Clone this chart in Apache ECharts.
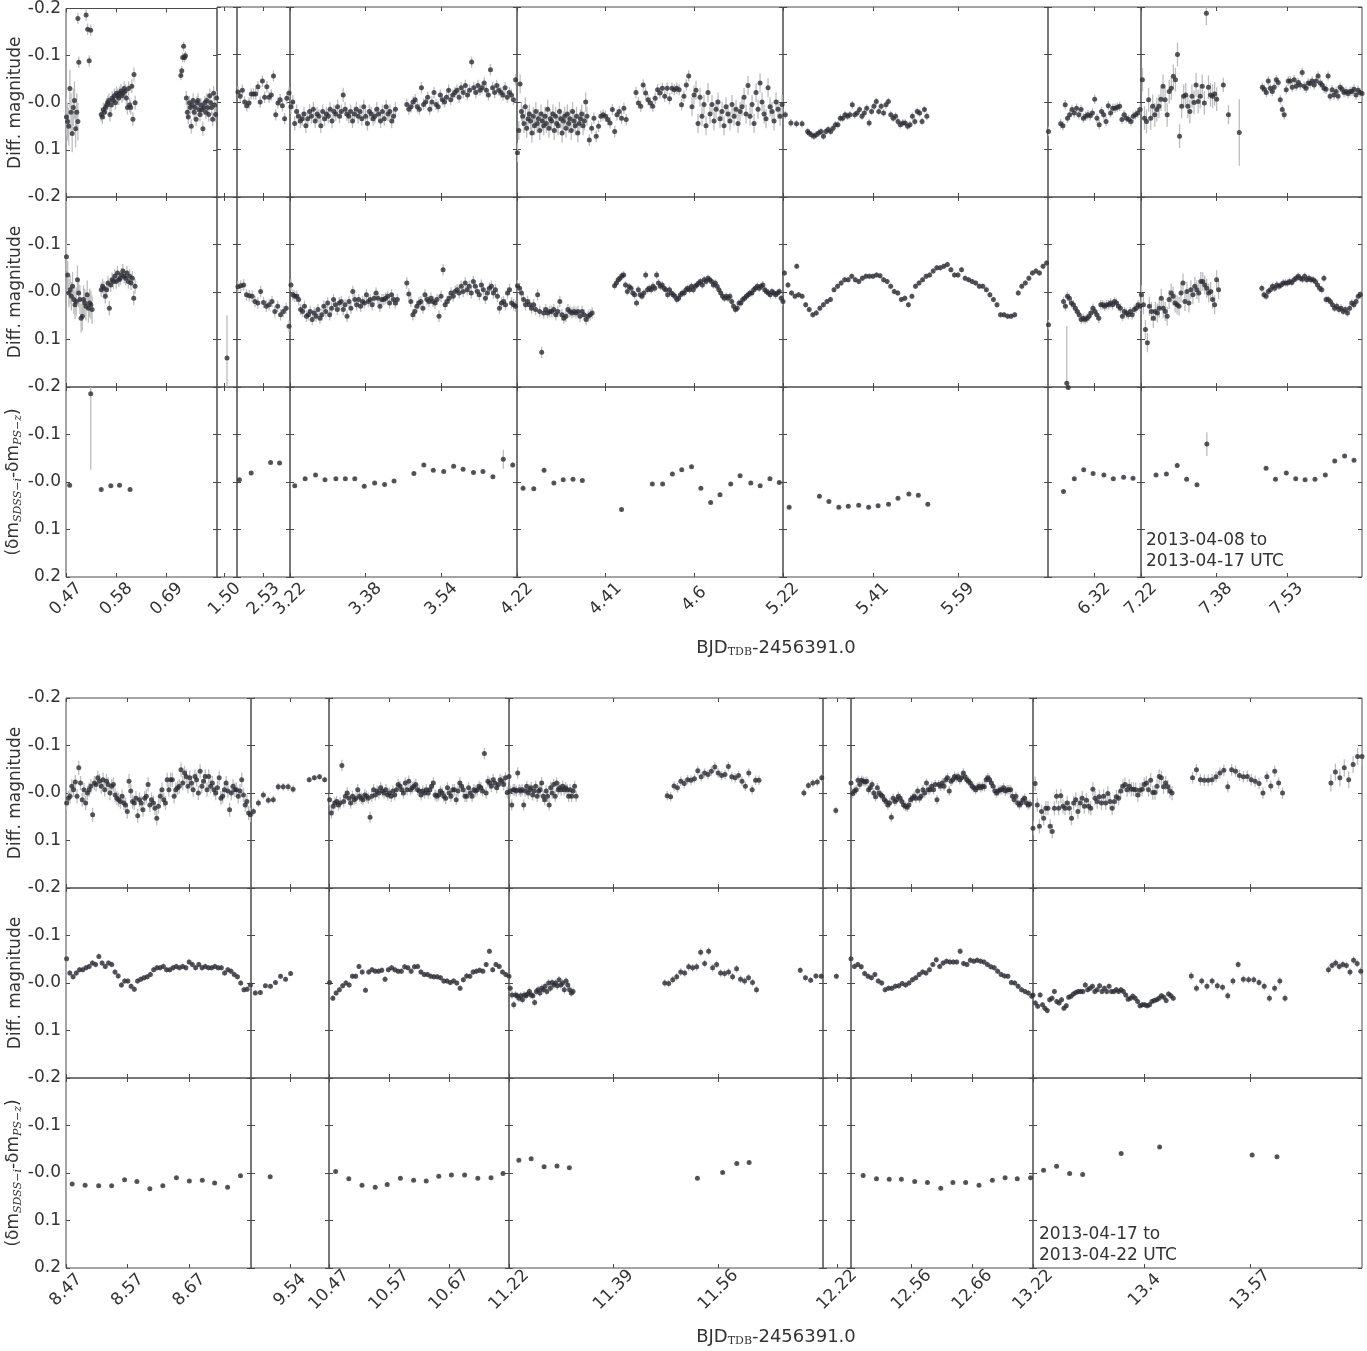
<!DOCTYPE html>
<html>
<head>
<meta charset="utf-8">
<title>Differential light curves</title>
<script src="https://cdn.jsdelivr.net/npm/echarts@6/dist/echarts.min.js"></script>
<style>
  html, body { margin: 0; padding: 0; background: #fff; }
  #main { width: 1367px; height: 1351px; }
</style>
</head>
<body>
<div id="main"></div>
<script>
// ---- x segments (BJD_TDB - 2456391.0) and their tick labels ----
var segA = [[0.47, 0.80], [1.483, 1.527], [2.474, 2.586], [3.22, 3.70], [4.22, 4.79], [5.22, 5.78], [6.221, 6.419], [7.22, 7.69]];
var ticksA = [['0.47', '0.58', '0.69'], ['1.50'], ['2.53'], ['3.22', '3.38', '3.54'], ['4.22', '4.41', '4.6'], ['5.22', '5.41', '5.59'], ['6.32'], ['7.22', '7.38', '7.53']];
var segB = [[8.47, 8.77], [9.477, 9.603], [10.47, 10.77], [11.22, 11.73], [12.197, 12.243], [12.46, 12.76], [13.22, 13.75]];
var ticksB = [['8.47', '8.57', '8.67'], ['9.54'], ['10.47', '10.57', '10.67'], ['11.22', '11.39', '11.56'], ['12.22'], ['12.56', '12.66'], ['13.22', '13.4', '13.57']];

// y ticks
var yTicks = [-0.2, -0.1, 0, 0.1, 0.2];

// ---- data: runs of [tStart, tEnd, err(mmag), values(mmag)] ----
var magA1 = [
  [0.471, 0.496, 40, [30, 40, 50, -30, 20, 65, 10, -5, 55, 20, 40]],
  [0.496, 0.498, 12, [-179, -86]],
  [0.514, 0.524, 12, [-186, -156, -89, -154]],
  [0.547, 0.621, 15, [25, 30, 15, 20, 10, 5, 0, -5, 25, 5, -10, -5, -15, 0, -20, -15, -10, -20, -25, -15, -20, -30, -25, -10, 10, -30, 5, 10, -35, 35, -60, 0]],
  [0.721, 0.731, 10, [-58, -68, -96, -120, -96, -100]],
  [0.733, 0.799, 15, [-10, 20, 30, 0, 10, 50, 5, -5, 20, 10, 35, 0, -5, 15, 25, 5, 15, 55, 10, 0, 20, -5, 10, 25, -15, 0, 10, 35, -20, 5, 25, -10]],
  [2.476, 2.584, 12, [-21, -12, -25, 0, 8, 2, -17, -17, -17, -32, 0, -44, -10, -32, -10, -15, -55, 27, 2, -5, 8, 35, -8, -19]],
  [3.222, 3.443, 15, [10, 0, 45, 20, 30, 40, 35, 25, 50, 35, 20, 30, 15, 40, 25, 30, 50, 20, 35, 25, 30, 15, 40, 20, 25, 10, 30, 20, -15, 15, 25, 30, 20, 40, 25, 15, 30, 20, 35, 10, 30, 45, 20, 25, 35, 30, 15, 25, 40, 20, 35, 10, 25, 20, 40, 30, 15]],
  [3.467, 3.697, 12, [5, 15, 10, 0, -5, 10, 15, -30, 5, 0, -10, 15, 0, -20, 5, 10, -15, -5, 0, -10, -25, -5, -15, -20, -25, -10, -30, -20, -35, -15, -25, -84, -30, -20, -35, -25, -30, -40, -25, -15, -68, -30, -20, -35, -25, -20, -15, -30, -10, -20, -15, -5, -47]],
  [4.221, 4.37, 20, [107, 60, -38, 20, 30, 45, 10, 55, 35, 25, 40, 65, 30, 50, 20, 45, 35, 60, 25, 40, 50, 30, 45, 15, 55, 35, 40, 25, 60, 30, 45, 50, 20, 35, 65, 40, 30, 55, 25, 45, 35, 60, 20, 40, 50, 30, 65, 45, 35, 25, 50, 40, 0, 30]],
  [4.375, 4.454, 12, [80, 55, 34, 72, 51, 30, 27, 30, 37, 44, 16, 62, 27, 20, 34, 13, 37]],
  [4.475, 4.588, 12, [-20, 2, 9, -36, -19, -5, 2, 9, -8, -26, -19, -29, -12, -29, -7, -29, -26, -29, -26, 6, -12, -36, -55]],
  [4.595, 4.788, 20, [10, -15, -25, 45, -10, 30, 5, 50, -20, 25, 5, 40, 15, 0, 35, 20, 50, 10, 25, 40, 5, 30, 15, 45, 20, 10, -10, 25, -35, 30, 5, 45, -20, 15, -40, 0, 25, 35, -30, 10, 20, 40, 0, 15, 30, 5]],
  [5.225, 5.272, 8, [27, 44, 46, 46, 62]],
  [5.275, 5.524, 8, [65, 69, 72, 69, 65, 62, 72, 62, 58, 62, 55, 48, 48, 34, 34, 27, 30, 27, 6, 27, 23, 16, 30, 23, 13, 44, 20, 9, -1, 20, 9, 23, 6, -1, 27, 34, 30, 41, 48, 44, 44, 51, 48, 30, 41, 20, 23, 41, 16, 30]],
  [6.222, 6.222, 10, [62]],
  [6.248, 6.417, 10, [46, 50, 6, 34, 27, 16, 23, 13, 27, 16, 34, 30, 27, 29, 23, -6, 34, 48, 20, 27, 41, 8, 23, 13, 13, 11, 9, 37, 27, 34, 37, 41, 30, 27, 23, 16]],
  [7.223, 7.381, 25, [-47, 34, 41, -5, 34, 9, 27, 16, 9, -6, -33, -5, 27, -22, -29, -54, -47, -100, 72, 9, -12, -15, 9, 20, -12, 1, -36, -1, -12, -33, 2, -187, -31, -15, -12, -17, -6]],
  [7.395, 7.395, 15, [-36]],
  [7.406, 7.406, 20, [27]],
  [7.429, 7.429, 70, [64]],
  [7.478, 7.69, 10, [-31, -27, -20, -44, -29, -22, -31, -47, -41, -5, 16, 27, -26, -44, -44, -31, -47, -33, -41, -36, -62, -33, -29, -40, -39, -44, -36, -44, -55, -40, -36, -29, -27, -55, -12, -26, -15, -22, -12, -31, -27, -20, -22, -18, -22, -22, -27, -15, -25, -20, -18]]
];

var magA2 = [
  [0.471, 0.527, 30, [-74, -36, 2, -5, 9, -12, 16, 27, 20, -26, 2, 16, 55, 51, 16, 23, 30, 6, 34, 23, 27, 37]],
  [0.547, 0.621, 15, [-5, -12, -8, 9, -5, -19, 34, -15, -26, -22, -33, -22, -40, -26, -29, -36, -44, -33, -29, -40, -22, -33, -19, -29, 13, -12]],
  [1.505, 1.505, 90, [139]],
  [2.476, 2.584, 12, [-11, -13, -15, 6, 8, 9, 20, 23, -1, 22, 30, 27, 20, 41, 30, 48, 41, 34, 72]],
  [3.222, 3.447, 12, [-15, 6, 9, 9, 16, 37, 41, 30, 51, 48, 41, 58, 44, 51, 37, 55, 48, 30, 41, 23, 48, 34, 16, 27, 37, 23, 20, 37, 27, 51, 20, 34, -1, 16, 27, 16, 30, 20, 23, 6, 20, 16, 27, 13, 2, 13, 30, 16, 16, 13, 9, 23, 6, 16, 23, 16]],
  [3.467, 3.697, 12, [-19, 4, 20, 48, 41, 30, 23, 20, 34, 6, 16, 20, 13, 20, 23, 16, 51, 9, -47, 27, 20, 13, 2, 9, -1, -5, 2, -12, -1, -19, -5, -12, 2, -22, -12, -1, 6, -15, -5, 13, 2, -8, -12, 2, -5, 9, 34, 23, 20, 27, 2, -5, 23, 27, 30]],
  [4.221, 4.381, 12, [-13, -8, 2, 16, 27, 20, 27, 34, 27, 37, 6, 41, 127, 44, 37, 44, 41, 41, 37, 48, 41, 20, 48, 55, 51, 37, 41, 44, 41, 44, 41, 51, 41, 48, 58, 51, 48, 44]],
  [4.429, 4.79, 8, [-13, -19, -26, -29, -34, -36, -15, -1, -11, -8, 2, 6, 23, -5, 6, 9, 2, -36, -5, -8, -5, -12, -8, -36, -19, -12, -15, -8, -5, 6, -5, 2, 6, 9, 16, 13, 6, 2, 2, -5, -8, -5, -12, -5, -12, -15, -19, -22, -15, -26, -22, -29, -26, -22, -15, -19, -12, -5, 2, 9, 13, 9, 13, 9, 20, 30, 37, 34, 23, 23, 16, 13, 9, 6, 2, 2, -5, -8, -12, -8, -12, -15, -5, -1, 2, 6, -1, 2, 6, 2, -1, 13, 20]],
  [5.223, 5.777, 6, [-40, -15, 2, 9, 6, 9, 27, 37, 48, 44, 34, 27, 20, 16, -5, -12, -19, -26, -26, -33, -26, -22, -29, -33, -33, -33, -36, -34, -26, -22, -12, -1, 2, 16, 13, 27, 9, -12, -19, -26, -33, -36, -44, -51, -51, -54, -58, -47, -36, -36, -47, -29, -26, -22, -19, -12, -12, -5, 6, 16, 27, 48, 48, 51, 51, 48, 2, -12, -19, -29, -40, -44, -40, -54, -61]],
  [5.249, 5.249, 6, [-54]],
  [6.222, 6.222, 10, [69]],
  [6.261, 6.261, 120, [192]],
  [6.254, 6.417, 10, [20, 30, 9, 13, 23, 27, 34, 41, 48, 58, 55, 58, 55, 51, 44, 34, 41, 48, 55, 27, 27, 30, 27, 27, 23, 27, 20, 23, 30, 34, 51, 41, 44, 48, 41, 48, 37, 34, 27, 30]],
  [7.221, 7.385, 20, [6, 27, 79, 107, 30, 41, 55, 41, 44, 34, 13, 34, 41, 51, 16, 2, 9, 23, 27, 30, 2, -19, 20, -1, 23, -5, 6, -12, -5, 2, -22, -22, -15, -8, 2, -1, 16, 27, -26, -5]],
  [7.477, 7.691, 8, [-8, 6, 9, -1, -5, -12, -8, -15, -12, -15, -19, -19, -19, -22, -20, -26, -29, -33, -29, -27, -33, -26, -29, -26, -26, -22, -15, -8, -5, -29, 16, 16, 20, 27, 34, 30, 37, 34, 41, 37, 44, 34, 23, 27, 20, 9, 6, 16]]
];

// colour term: [t, mmag, err(mmag)]
var colA = [
  [0.478, 7, 4], [0.524, -186, 160], [0.547, 16, 3], [0.568, 8, 3], [0.587, 7, 3], [0.610, 16, 3],
  [2.479, -5, 3], [2.504, -19, 3], [2.545, -41, 3], [2.564, -40, 3],
  [3.230, 8, 3], [3.252, -7, 3], [3.274, -15, 3], [3.294, -5, 3], [3.317, -7, 3], [3.337, -7, 3], [3.357, -7, 3], [3.377, 9, 3], [3.399, 2, 3], [3.420, 5, 3], [3.440, -2, 3],
  [3.482, -18, 3], [3.503, -36, 3], [3.523, -25, 3], [3.545, -22, 3], [3.566, -33, 3], [3.586, -27, 3], [3.608, -20, 3], [3.628, -22, 3], [3.649, -11, 3], [3.671, -48, 20], [3.691, -36, 5],
  [4.233, 13, 5], [4.256, 14, 4], [4.278, -25, 5], [4.299, 2, 3], [4.319, -5, 3], [4.340, -6, 3], [4.360, -3, 3], [4.444, 58, 4],
  [4.510, 4, 3], [4.532, 4, 3], [4.553, -17, 3], [4.573, -26, 3], [4.594, -32, 3], [4.614, 13, 3], [4.635, 43, 4], [4.655, 27, 4], [4.678, 4, 3], [4.698, -13, 3], [4.721, 2, 3], [4.741, 8, 3], [4.762, -7, 3], [4.782, 1, 3],
  [5.233, 53, 3], [5.297, 30, 3], [5.317, 41, 3], [5.338, 53, 3], [5.358, 51, 3], [5.380, 49, 3], [5.401, 53, 3], [5.421, 50, 3], [5.443, 47, 3], [5.463, 34, 3], [5.486, 25, 3], [5.506, 28, 3], [5.526, 47, 4],
  [6.254, 20, 4], [6.264, -199, 3], [6.277, -7, 3], [6.297, -26, 3], [6.317, -18, 3], [6.340, -15, 3], [6.360, -7, 3], [6.382, -10, 3], [6.402, -8, 3],
  [7.252, -15, 3], [7.274, -17, 3], [7.297, -35, 5], [7.317, -6, 3], [7.339, 6, 3], [7.360, -80, 25],
  [7.486, -29, 3], [7.506, -6, 3], [7.529, -19, 3], [7.549, -7, 3], [7.569, -5, 3], [7.590, -6, 3], [7.612, -15, 3], [7.632, -44, 3], [7.653, -55, 3], [7.673, -46, 3]
];

var magB1 = [
  [8.471, 8.769, 15, [21, 11, 7, -14, -7, -23, 7, -53, -21, 14, -7, 21, 0, -7, -14, 46, -21, -18, -32, -25, -14, -28, -7, -25, -18, 0, -14, -18, 4, 11, 14, 18, 7, 21, 25, 39, -25, -4, 18, 21, 11, 48, 14, 21, 35, 11, 7, -18, 25, 14, 21, 32, 53, 28, 7, -7, 14, 21, -28, -7, -28, -28, 7, -7, -11, -14, -49, -21, -42, -35, -14, -32, -21, -7, -35, -28, 0, -46, -14, -25, -35, -7, -35, -14, -21, -7, 0, -11, -32, 11, 7, -7, -21, -4, 35, 0, -14, -7, -7, 7, -4, -28, 4, 25, 18, 42, 46]],
  [9.481, 9.545, 8, [39, 21, 4, 15, 14, -13, -13, -13, -8]],
  [9.571, 9.596, 6, [-28, -32, -34, -28]],
  [10.471, 10.77, 12, [14, 42, 28, 21, 18, 25, 21, -58, 18, 7, 0, 11, 21, 7, 14, 11, -7, 7, 11, 14, 4, 7, 11, 51, 7, -7, 4, -4, 0, -11, -4, 0, -7, 4, 0, 7, -4, 4, -7, -18, -14, -7, 0, -21, -7, -25, -7, -11, -14, -18, -7, -4, 4, -4, 0, -7, 0, -7, -14, -21, 4, 7, 4, -4, 0, 7, 11, -11, 0, 7, -7, -7, 14, -4, -21, -14, -7, 7, 7, -11, 0, 7, -7, -4, -7, -14, -11, -4, -83, 0, -25, -21, -14, -28, -21, -11, -18, -28, -25, -18, -32, -1, -35]],
  [11.222, 11.329, 12, [-4, 25, -7, -7, -4, -42, -7, -4, -7, 25, -4, -14, 0, -7, -11, 4, -4, -14, 7, -4, -7, -21, 7, 14, -4, 7, 25, -11, 0, -18, 7, -21, -7, -11, -7, -14, -7, -11, -7, 7, -7, 7, -4, -14, 7]],
  [11.477, 11.626, 10, [6, 8, -15, -11, -25, -20, -28, -27, -30, -47, -34, -42, -39, -46, -55, -42, -37, -39, -56, -34, -32, -37, -25, -14, -42, -7, -27, -27]],
  [11.699, 11.728, 8, [0, -16, -21, -23, -32]],
  [12.218, 12.218, 8, [37]],
  [12.46, 12.755, 10, [-21, 1, -4, -7, -27, -18, -27, -25, -23, -25, -7, -11, -18, 0, 8, -11, 0, 4, 7, 14, 18, 25, 21, 51, 11, 18, 14, 7, 11, 18, 25, 28, 30, 25, 14, 11, 7, 11, -4, 11, 7, -7, 0, -21, -7, -7, -14, -7, -18, 14, -18, -14, -21, -14, -28, -32, -4, -25, -28, -35, -32, -35, -28, -32, -42, -34, -28, -25, -21, -14, -11, -7, -11, -14, -11, -14, -13, -28, -32, -28, -21, -14, -4, 0, -4, -7, -7, -11, -4, -7, -7, -7, 7, 14, 7, 21, 25, 21, 14, 11, 21, 25, 23]],
  [13.22, 13.444, 15, [74, -20, 25, 70, 39, 53, 32, 32, 70, 81, 32, 7, 32, 6, 28, 32, 21, 32, 53, 21, 14, 39, 21, 11, 28, 15, 28, 32, -8, 11, 18, 8, 21, 7, 21, 1, 18, 32, 18, 8, 11, -4, -14, -18, -7, -14, -8, -8, -7, 4, -6, -8, -18, -21, -7, -27, -1, -1, -14, -35, -32, -13, -21, -13, -4, 0]],
  [13.477, 13.622, 12, [-32, -49, -28, -27, -27, -28, -34, -42, -48, -13, -49, -46, -37, -34, -35, -28, -25, -20, 0, -34, -15, -46, -21, 0]],
  [13.70, 13.75, 18, [-21, -44, -32, -53, -28, -60, -77, -77]]
];

var magB2 = [
  [8.471, 8.769, 6, [-51, -21, -13, -21, -28, -28, -32, -35, -42, -39, -56, -42, -35, -42, -39, -23, -15, 4, -4, -4, 7, 13, -4, -8, -11, -13, -18, -28, -32, -32, -35, -28, -28, -32, -35, -32, -35, -32, -44, -39, -32, -39, -32, -35, -32, -32, -35, -32, -32, -21, -28, -25, -18, -13, 0, 14, 13, 4]],
  [9.484, 9.541, 5, [21, 20, 6, 7, -1, -14, -8, -20]],
  [10.471, 10.77, 6, [-1, 32, 21, 14, 6, 0, 4, -14, -14, -35, -23, 15, -23, -28, -25, -25, -27, -8, -28, -32, -28, -25, -25, -34, -32, -25, -34, -35, -23, -18, -18, -14, -13, -13, -11, -4, -4, -1, -4, 0, 11, -7, -15, -14, -23, -25, -27, -25, -39, -67, -28, -39, -35, -23, -18, -14]],
  [11.222, 11.324, 8, [11, 25, 46, 25, 27, 32, 27, 35, 25, 27, 23, 18, 25, 27, 41, 18, 14, 21, 11, 14, 7, 18, 0, 11, -1, 4, 0, 6, -7, 4, 0, 14, -4, 4, 14, 21, 18]],
  [11.473, 11.622, 8, [0, 1, -7, -13, -23, -21, -34, -32, -34, -65, -41, -67, -32, -39, -21, -20, -23, -13, -30, -8, -4, -11, -1, 14]],
  [11.693, 11.727, 6, [-27, -11, -6, -15, -14]],
  [12.219, 12.219, 6, [-14]],
  [12.46, 12.758, 6, [-51, -35, -39, -34, -20, -14, -11, -18, -4, 0, 14, 11, 11, 7, 6, 1, 4, 0, -7, -11, -18, -23, -21, -28, -39, -49, -35, -42, -46, -44, -44, -44, -67, -41, -39, -48, -46, -48, -46, -44, -39, -34, -32, -25, -18, -15, -14, -1, 0, 7, 14, 18, 21, 28]],
  [13.22, 13.446, 6, [25, 42, 49, 25, 46, 53, 58, 35, 32, 18, 39, 42, 35, 53, 48, 30, 28, 23, 20, 18, 18, 18, 4, 14, 11, 7, 18, 14, 6, 18, 11, 18, 7, 18, 18, 14, 18, 14, 18, 25, 34, 32, 28, 32, 39, 48, 46, 46, 48, 46, 39, 37, 35, 32, 27, 30, 37, 23, 27, 32]],
  [13.475, 13.626, 8, [-15, 11, -4, 7, -4, 6, 9, 27, -4, -39, -8, -7, -7, -1, 7, 32, 11, -4, 32]],
  [13.696, 13.748, 8, [-28, -37, -42, -35, -39, -37, -23, -48, -41, -25]]
];

var colB = [
  [8.480, 23], [8.501, 26], [8.523, 27], [8.544, 27], [8.565, 14], [8.585, 18], [8.606, 33], [8.627, 27], [8.649, 10], [8.670, 17], [8.691, 15], [8.711, 21], [8.732, 30], [8.753, 6],
  [9.508, 8],
  [10.481, -3], [10.503, 12], [10.525, 26], [10.547, 30], [10.567, 24], [10.589, 11], [10.611, 15], [10.632, 17], [10.653, 7], [10.674, 4], [10.696, 4], [10.718, 11], [10.740, 10], [10.760, 1],
  [11.236, -27], [11.256, -30], [11.277, -13], [11.298, -15], [11.318, -11], [11.526, 11], [11.567, -1], [11.590, -20], [11.610, -22],
  [12.480, 5], [12.502, 12], [12.523, 13], [12.543, 13], [12.565, 18], [12.586, 20], [12.608, 32], [12.628, 20], [12.649, 20], [12.671, 26], [12.693, 15], [12.714, 10], [12.734, 12], [12.756, 10],
  [13.237, -6], [13.258, -14], [13.279, 1], [13.300, 3], [13.362, -41], [13.424, -55], [13.573, -38], [13.613, -34]
];

// ---- layout ----
var FONT = 'DejaVu Sans';
var INK = '#333333';
var FRAME = '#4a4a4a';
var DOT = '#2c2c36';
var BAR = '#bdbdbd';
var PANEL_H = 190;

function expandRuns(runs) {
  var pts = [];
  runs.forEach(function (r) {
    var n = r[3].length;
    r[3].forEach(function (v, i) {
      var t = n > 1 ? r[0] + (r[1] - r[0]) * i / (n - 1) : r[0];
      pts.push([t, v / 1000, r[2] / 1000]);
    });
  });
  return pts;
}
function expandPoints(list) {
  return list.map(function (p) { return [p[0], p[1] / 1000, (p.length > 2 ? p[2] : 3) / 1000]; });
}

var figures = [
  {
    seg: segA, ticks: ticksA,
    edges: [66, 217, 237, 290, 517, 783, 1048, 1141, 1362],
    tops: [7, 197, 387],
    panels: [expandRuns(magA1), expandRuns(magA2), expandPoints(colA)],
    note: ['2013-04-08 to', '2013-04-17 UTC'], noteX: 1146, noteY: 530, titleY: 648
  },
  {
    seg: segB, ticks: ticksB,
    edges: [66, 251, 329, 509, 823, 851, 1033, 1362],
    tops: [698, 888, 1078],
    panels: [expandRuns(magB1), expandRuns(magB2), expandPoints(colB)],
    note: ['2013-04-17 to', '2013-04-22 UTC'], noteX: 1039, noteY: 1224, titleY: 1337
  }
];

var grids = [], xAxes = [], yAxes = [], series = [], graphics = [];

function renderBar(params, api) {
  var t = api.value(0), v = api.value(1), e = api.value(2);
  if (v < -0.2 || v > 0.2) return null;
  var lo = api.coord([t, Math.max(v - e, -0.2)]);
  var hi = api.coord([t, Math.min(v + e, 0.2)]);
  return { type: 'line', shape: { x1: lo[0], y1: lo[1], x2: hi[0], y2: hi[1] }, style: { stroke: BAR, lineWidth: 1.3 } };
}

var yName = [
  'Diff. magnitude',
  'Diff. magnitude',
  '{a|(δm}{s|SDSS−i}{a|-δm}{s|PS−z}{a|)}'
];

var noLine = { show: false, onZero: false };

figures.forEach(function (fig) {
  fig.panels.forEach(function (pts, p) {
    var bottom = p === 2;
    fig.seg.forEach(function (range, s) {
      var g = grids.length;
      grids.push({
        left: fig.edges[s], top: fig.tops[p],
        width: fig.edges[s + 1] - fig.edges[s], height: PANEL_H,
        show: true, borderColor: FRAME, borderWidth: 1, backgroundColor: 'transparent'
      });
      var tickVals = fig.ticks[s].map(parseFloat);
      var tickText = {};
      fig.ticks[s].forEach(function (t) { tickText[parseFloat(t).toFixed(3)] = t; });
      xAxes.push({
        type: 'value', gridIndex: g, position: 'bottom', min: range[0], max: range[1],
        axisLine: noLine, splitLine: { show: false },
        axisTick: { show: true, inside: true, length: 4, lineStyle: { color: FRAME }, customValues: tickVals },
        axisLabel: {
          show: bottom, customValues: tickVals, rotate: 45, align: 'center', verticalAlign: 'middle', margin: 22,
          fontSize: 17, fontFamily: FONT, color: INK,
          formatter: function (v) { return tickText[v.toFixed(3)] || ''; }
        }
      });
      xAxes.push({
        type: 'value', gridIndex: g, position: 'top', min: range[0], max: range[1],
        axisLine: noLine, splitLine: { show: false }, axisLabel: { show: false },
        axisTick: { show: true, inside: true, length: 4, lineStyle: { color: FRAME }, customValues: tickVals }
      });
      var left = {
        type: 'value', gridIndex: g, position: 'left', min: -0.2, max: 0.2, interval: 0.1, inverse: true,
        axisLine: noLine, splitLine: { show: false },
        axisTick: { show: true, inside: true, length: 4, lineStyle: { color: FRAME } },
        axisLabel: {
          show: s === 0, margin: 5, fontSize: 17, fontFamily: FONT, color: INK,
          customValues: bottom ? yTicks : yTicks.slice(0, 4),
          formatter: function (v) { return Math.abs(v) < 1e-9 ? '-0.0' : v.toFixed(1); }
        }
      };
      if (s === 0) {
        left.name = yName[p];
        left.nameLocation = 'middle';
        left.nameGap = 41;
        left.nameTextStyle = {
          fontSize: 17, fontFamily: FONT, color: INK,
          rich: {
            a: { fontSize: 17, fontFamily: FONT, color: INK },
            s: { fontSize: 11, fontFamily: 'DejaVu Serif', fontStyle: 'italic', color: INK, padding: [9, 0, 0, 0] }
          }
        };
      }
      yAxes.push(left);
      yAxes.push({
        type: 'value', gridIndex: g, position: 'right', min: -0.2, max: 0.2, interval: 0.1, inverse: true,
        axisLine: noLine, splitLine: { show: false }, axisLabel: { show: false },
        axisTick: { show: true, inside: true, length: 4, lineStyle: { color: FRAME } }
      });
      var data = pts.filter(function (d) { return d[0] >= range[0] - 0.004 && d[0] <= range[1] + 0.004; });
      series.push({
        type: 'custom', xAxisIndex: 2 * g, yAxisIndex: 2 * g, data: data, renderItem: renderBar,
        encode: { x: 0, y: 1 }, silent: true, z: 2, clip: true
      });
      series.push({
        type: 'scatter', xAxisIndex: 2 * g, yAxisIndex: 2 * g,
        data: data.map(function (d) { return [d[0], d[1]]; }),
        symbol: 'circle', symbolSize: 5, itemStyle: { color: DOT }, silent: true, z: 3, clip: true
      });
    });
  });

  graphics.push({
    type: 'text', x: 776, y: fig.titleY,
    style: {
      text: '{a|BJD}{b|TDB}{a|-2456391.0}', align: 'center', verticalAlign: 'middle',
      rich: {
        a: { fontSize: 18, fontFamily: FONT, fill: INK },
        b: { fontSize: 11, fontFamily: 'DejaVu Serif', fill: INK, padding: [9, 0, 0, 0] }
      }
    }
  });
  graphics.push({
    type: 'text', x: fig.noteX, y: fig.noteY,
    style: { text: fig.note.join('\n'), fontSize: 17, lineHeight: 21, fontFamily: FONT, fill: INK, align: 'left', verticalAlign: 'top' },
    z: 10
  });
});

var chart = echarts.init(document.getElementById('main'), null, { renderer: 'canvas' });
chart.setOption({
  animation: false,
  backgroundColor: '#ffffff',
  grid: grids,
  xAxis: xAxes,
  yAxis: yAxes,
  series: series,
  graphic: graphics
});
</script>
</body>
</html>
